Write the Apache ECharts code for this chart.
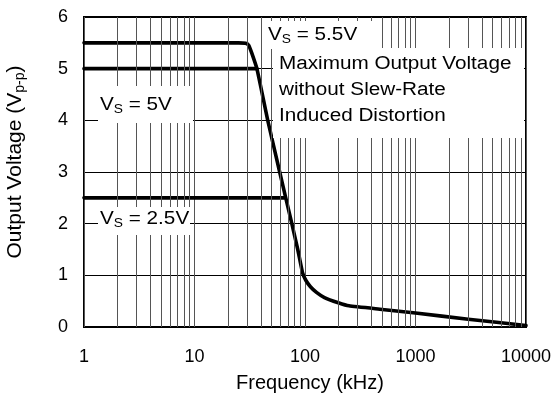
<!DOCTYPE html>
<html>
<head>
<meta charset="utf-8">
<script src="https://cdn.jsdelivr.net/npm/echarts@6/dist/echarts.min.js"></script>
<style>
  html, body { margin: 0; padding: 0; background: #fff; }
  #chart { width: 556px; height: 400px; }
</style>
</head>
<body>
<div id="chart"></div>
<script>
// Maximum output swing vs frequency (VS = 5.5 V), plus the 5 V and 2.5 V supply limits
const freq55 = [1, 10, 25, 29, 31, 33, 36.7, 46, 59, 76, 86, 95, 102, 112, 127, 150, 200, 250, 500, 1000, 3000, 10000];
const vout55 = [5.5, 5.5, 5.5, 5.49, 5.45, 5.3, 5.0, 4.0, 3.0, 2.0, 1.5, 1.05, 0.9, 0.78, 0.67, 0.57, 0.47, 0.41, 0.34, 0.27, 0.15, 0.03];
const freq5 = [1, 36.7];
const vout5 = [5, 5];
const freq25 = [1, 65];
const vout25 = [2.5, 2.5];
const xTicks = [1, 10, 100, 1000, 10000];
const yTicks = [0, 1, 2, 3, 4, 5, 6];

const pair = (xs, ys) => xs.map((x, i) => [x, ys[i]]);

// vertical grid lines at 2..9 within every decade
const minorLines = [];
for (let d = 1; d < 10000; d *= 10) {
  for (let m = 2; m <= 9; m++) minorLines.push({ xAxis: m * d });
}

const FONT = 'Liberation Sans, Arial, sans-serif';
const curveStyle = { color: '#000', width: 3.6, cap: 'round', join: 'round' };
const subStyle = { fontFamily: FONT, fontSize: 12, fill: '#000', padding: [9, 0, 0, 0] };

const chart = echarts.init(document.getElementById('chart'), null, { renderer: 'canvas' });
chart.setOption({
  animation: false,
  backgroundColor: '#fff',
  grid: { left: 84, top: 17, right: 30, bottom: 73, containLabel: false, outerBoundsMode: 'none',
    show: true, borderColor: '#000', borderWidth: 2, backgroundColor: 'transparent' },
  xAxis: {
    type: 'log', logBase: 10, min: 1, max: 10000,
    name: 'Frequency (kHz)', nameLocation: 'middle', nameGap: 46,
    nameTextStyle: { fontFamily: FONT, fontSize: 20, color: '#000', padding: [0, 0, 0, 10] },
    axisLine: { show: false }, axisTick: { show: false },
    axisLabel: { fontFamily: FONT, fontSize: 18, color: '#000', margin: 21,
      formatter: v => (xTicks.indexOf(Math.round(v)) >= 0 ? String(Math.round(v)) : '') },
    splitLine: { show: true, lineStyle: { color: '#555', width: 1 } }
  },
  yAxis: {
    type: 'value', min: 0, max: 6, interval: 1,
    name: 'Output Voltage (V{sub|p-p})', nameLocation: 'middle', nameGap: 57, nameRotate: 90,
    nameTextStyle: { fontFamily: FONT, fontSize: 21, color: '#000', padding: [0, 0, 0, 20],
      rich: { sub: { fontFamily: FONT, fontSize: 14, color: '#000', padding: [10, 0, 0, 0] } } },
    axisLine: { show: false }, axisTick: { show: false },
    axisLabel: { fontFamily: FONT, fontSize: 18, color: '#000', margin: 16,
      formatter: v => (yTicks.indexOf(v) >= 0 ? String(v) : '') },
    splitLine: { show: true, lineStyle: { color: '#000', width: 1 } }
  },
  series: [
    {
      type: 'line', data: [], z: 1, silent: true,
      markLine: { silent: true, symbol: 'none', label: { show: false },
        lineStyle: { color: '#555', width: 1, type: 'solid' }, data: minorLines }
    },
    { type: 'line', data: pair(freq55, vout55), z: 4, symbol: 'none', smooth: 0.15, lineStyle: curveStyle },
    { type: 'line', data: pair(freq5, vout5), z: 4, symbol: 'none', lineStyle: curveStyle },
    { type: 'line', data: pair(freq25, vout25), z: 4, symbol: 'none', lineStyle: curveStyle }
  ],
  graphic: [
    // annotation boxes (white backing hides the grid lines)
    { type: 'rect', z: 10, shape: { x: 262, y: 21, width: 110, height: 28 }, style: { fill: '#fff' } },
    { type: 'rect', z: 10, shape: { x: 273, y: 48, width: 251, height: 90 }, style: { fill: '#fff' } },
    { type: 'rect', z: 10, shape: { x: 98, y: 86, width: 95, height: 37 }, style: { fill: '#fff' } },
    { type: 'rect', z: 10, shape: { x: 98, y: 207, width: 92, height: 28 }, style: { fill: '#fff' } },
    { type: 'text', z: 11, x: 268, y: 25, scaleX: 1.15, style: {
      text: 'V{sub|S} = 5.5V', fontFamily: FONT, fontSize: 18, fill: '#000', rich: { sub: subStyle } } },
    { type: 'text', z: 11, x: 279, y: 51, scaleX: 1.15, style: {
      text: 'Maximum Output Voltage\nwithout Slew-Rate\nInduced Distortion',
      fontFamily: FONT, fontSize: 18, fill: '#000', lineHeight: 26 } },
    { type: 'text', z: 11, x: 100, y: 95, scaleX: 1.15, style: {
      text: 'V{sub|S} = 5V', fontFamily: FONT, fontSize: 18, fill: '#000', rich: { sub: subStyle } } },
    { type: 'text', z: 11, x: 100, y: 209, scaleX: 1.15, style: {
      text: 'V{sub|S} = 2.5V', fontFamily: FONT, fontSize: 18, fill: '#000', rich: { sub: subStyle } } }
  ]
});
</script>
</body>
</html>
